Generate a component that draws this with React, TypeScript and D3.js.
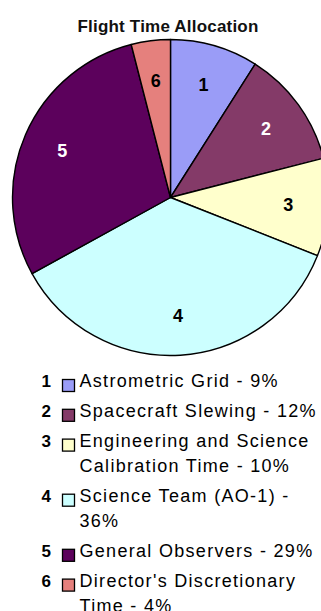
import React, { useMemo } from "react";
import * as d3 from "d3";

// Flight time allocation: share of observing time per programme (percent)
const TITLE = "Flight Time Allocation";
const categories = [
  "Astrometric Grid",
  "Spacecraft Slewing",
  "Engineering and Science Calibration Time",
  "Science Team (AO-1)",
  "General Observers",
  "Director's Discretionary Time",
];
const shares = [9, 12, 10, 36, 29, 4];
const sliceNumbers = ["1", "2", "3", "4", "5", "6"];
const sliceColors = ["#9a9cf7", "#843a68", "#ffffcc", "#ccffff", "#5c015c", "#e5807d"];
const numberColors = ["#000", "#fff", "#000", "#000", "#fff", "#000"];

const W = 321;
const H = 611;
const CX = 170.5;
const CY = 197.5;
const R = 158;
const LABEL_R = 118;

const FONT = "'Liberation Sans', Arial, Helvetica, sans-serif";
const LEGEND_SIZE = 18;
const LEGEND_LS = 1.3;
const LEGEND_MAX_W = 240;

function measure(text: string): number {
  const c = document.createElement("canvas");
  const ctx = c.getContext("2d")!;
  ctx.font = `${LEGEND_SIZE}px ${FONT}`;
  return ctx.measureText(text).width + text.length * LEGEND_LS;
}

function wrapWords(text: string, maxW: number): string[] {
  const words = text.split(" ");
  const lines: string[] = [];
  let cur = "";
  for (const w of words) {
    const next = cur ? cur + " " + w : w;
    if (cur && measure(next) > maxW) {
      lines.push(cur);
      cur = w;
    } else {
      cur = next;
    }
  }
  if (cur) lines.push(cur);
  return lines;
}

export default function App() {
  const pie = d3
    .pie<number>()
    .sort(null)
    .startAngle(0)
    .endAngle(2 * Math.PI)
    .value((d) => d);
  const arcs = pie(shares);
  const arc = d3.arc<d3.PieArcDatum<number>>().innerRadius(0).outerRadius(R);
  const labelArc = d3
    .arc<d3.PieArcDatum<number>>()
    .innerRadius(LABEL_R)
    .outerRadius(LABEL_R);

  const legend = useMemo(() => {
    const rows: { i: number; lines: string[]; ys: number[] }[] = [];
    let y = 387;
    categories.forEach((name, i) => {
      const lines = wrapWords(`${name} - ${shares[i]}%`, LEGEND_MAX_W);
      const ys = lines.map((_, k) => y + k * 25.3);
      rows.push({ i, lines, ys });
      y = ys[ys.length - 1] + 29.8;
    });
    return rows;
  }, []);

  return (
    <svg
      width={W}
      height={H}
      viewBox={`0 0 ${W} ${H}`}
      style={{ position: "absolute", left: 0, top: 0, background: "#fff" }}
      fontFamily={FONT}
    >
      <rect width={W} height={H} fill="#fff" />
      <text
        x={168}
        y={31.5}
        textAnchor="middle"
        fontSize={17}
        fontWeight="bold"
        letterSpacing={0.2}
        fill="#111"
      >
        {TITLE}
      </text>

      <g transform={`translate(${CX},${CY})`}>
        {arcs.map((a, i) => (
          <path
            key={i}
            d={arc(a) || ""}
            fill={sliceColors[i]}
            stroke="#000"
            strokeWidth={1.4}
            strokeLinejoin="round"
          />
        ))}
        {arcs.map((a, i) => {
          const [x, y] = labelArc.centroid(a);
          return (
            <text
              key={i}
              x={x}
              y={y}
              dy="0.36em"
              textAnchor="middle"
              fontSize={18}
              fontWeight="bold"
              fill={numberColors[i]}
            >
              {sliceNumbers[i]}
            </text>
          );
        })}
      </g>

      {legend.map(({ i, lines, ys }) => (
        <g key={i}>
          <text
            x={51}
            y={ys[0]}
            textAnchor="end"
            fontSize={17}
            fontWeight="bold"
            fill="#000"
          >
            {sliceNumbers[i]}
          </text>
          <rect
            x={62.5}
            y={ys[0] - 7.5}
            width={12}
            height={12}
            fill={sliceColors[i]}
            stroke="#000"
            strokeWidth={1.3}
          />
          {lines.map((ln, k) => (
            <text
              key={k}
              x={79.5}
              y={ys[k]}
              fontSize={LEGEND_SIZE}
              letterSpacing={LEGEND_LS}
              fill="#000"
            >
              {ln}
            </text>
          ))}
        </g>
      ))}
    </svg>
  );
}
